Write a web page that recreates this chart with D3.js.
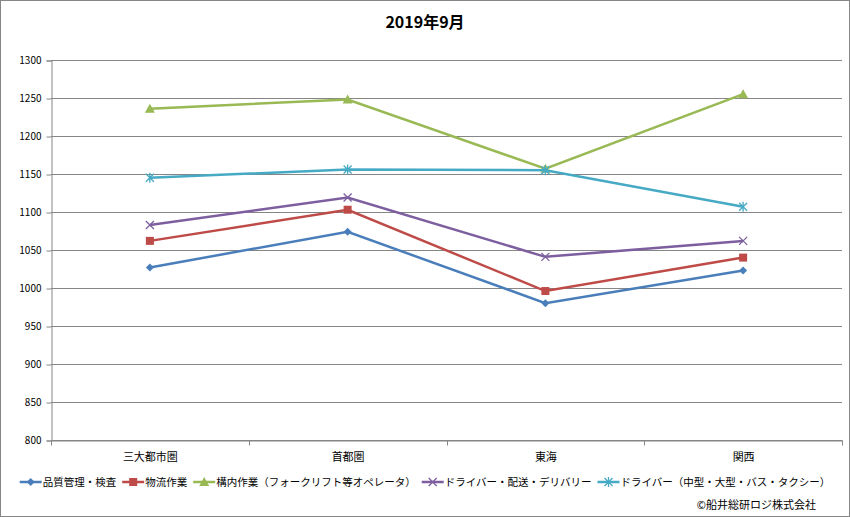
<!DOCTYPE html>
<html>
<head>
<meta charset="utf-8">
<script src="https://cdn.jsdelivr.net/npm/d3@7"></script>
<style>
  body { margin: 0; background: #fff; }
  text { font-family: "Noto Sans CJK JP", "Noto Sans", sans-serif; fill: #000; }
</style>
</head>
<body>
<div id="chart"></div>
<script>
// categories and series
const regions = ["三大都市圏", "首都圏", "東海", "関西"];
const seriesNames = [
  "品質管理・検査",
  "物流作業",
  "構内作業（フォークリフト等オペレータ）",
  "ドライバー・配送・デリバリー",
  "ドライバー（中型・大型・バス・タクシー）"
];
const qualityCheck = [1027, 1074, 980, 1023];
const logistics = [1062, 1103, 996, 1040];
const forklift = [1236, 1248, 1157, 1255];
const delivery = [1083, 1119, 1041, 1062];
const driverLarge = [1145, 1156, 1155, 1107];
const yTicks = [800, 850, 900, 950, 1000, 1050, 1100, 1150, 1200, 1250, 1300];

const colors = ["#4A7EBB", "#BE4B48", "#98B954", "#7D5FA0", "#46AAC5"];
const markers = ["diamond", "square", "triangle", "x", "star"];
const allSeries = [qualityCheck, logistics, forklift, delivery, driverLarge];

const width = 850, height = 517;
const margin = { left: 51, right: 8, top: 60, bottom: 77 };

const svg = d3.select('#chart')
  .append('svg')
    .attr('width', width)
    .attr('height', height);

// outer border
svg.append('rect')
  .attr('x', 0.5).attr('y', 0.5)
  .attr('width', width - 1).attr('height', height - 1)
  .attr('fill', '#fff')
  .attr('stroke', '#868686');

// title
svg.append('text')
  .attr('x', 425)
  .attr('y', 28)
  .attr('text-anchor', 'middle')
  .attr('font-size', 16)
  .attr('font-weight', 'bold')
  .text('2019年9月');

const x = d3.scaleBand()
  .domain(regions)
  .range([margin.left, width - margin.right]);

const y = d3.scaleLinear()
  .domain([800, 1300])
  .range([height - margin.bottom, margin.top]);

// gridlines
svg.append('g')
  .selectAll('line')
  .data(yTicks)
  .join('line')
    .attr('x1', margin.left)
    .attr('x2', width - margin.right)
    .attr('y1', d => Math.round(y(d)) + 0.5)
    .attr('y2', d => Math.round(y(d)) + 0.5)
    .attr('stroke', '#868686');

// y axis
const yAxis = svg.append('g')
  .attr('transform', `translate(${margin.left + 0.5},0.5)`)
  .call(d3.axisLeft(y).tickValues(yTicks).tickFormat(d3.format('d')).tickSize(5).tickPadding(5));
yAxis.select('.domain').attr('stroke', '#868686');
yAxis.selectAll('.tick line').attr('stroke', '#868686');
yAxis.selectAll('text').attr('font-size', 10).attr('font-family', '"DejaVu Sans", sans-serif').attr('fill', '#000');

// x axis
const xAxis = svg.append('g')
  .attr('transform', `translate(0.5,${Math.round(y(800)) + 0.5})`)
  .call(d3.axisBottom(x).tickSize(0).tickPadding(13));
xAxis.select('.domain').attr('stroke', '#868686');
xAxis.selectAll('text').attr('font-size', 11).attr('fill', '#000');
xAxis.selectAll('.boundary')
  .data([...regions.map(r => x(r)), width - margin.right])
  .join('line')
    .attr('class', 'boundary')
    .attr('x1', d => Math.round(d))
    .attr('x2', d => Math.round(d))
    .attr('y1', 0)
    .attr('y2', 5)
    .attr('stroke', '#868686');

const cx = r => x(r) + x.bandwidth() / 2;

function drawMarker(g, type, color, px, py) {
  const s = 4;
  if (type === 'diamond') {
    g.append('path').attr('d', `M${px},${py - s}L${px + s},${py}L${px},${py + s}L${px - s},${py}Z`).attr('fill', color);
  } else if (type === 'square') {
    g.append('rect').attr('x', px - 4).attr('y', py - 4).attr('width', 8).attr('height', 8).attr('fill', color);
  } else if (type === 'triangle') {
    g.append('path').attr('d', `M${px},${py - 5}L${px + 5},${py + 4}L${px - 5},${py + 4}Z`).attr('fill', color);
  } else if (type === 'x') {
    g.append('path').attr('d', `M${px - s},${py - s}L${px + s},${py + s}M${px - s},${py + s}L${px + s},${py - s}`).attr('stroke', color).attr('stroke-width', 1.3);
  } else {
    g.append('path').attr('d', `M${px - s},${py - s}L${px + s},${py + s}M${px - s},${py + s}L${px + s},${py - s}M${px},${py - s - 1}L${px},${py + s + 1}`).attr('stroke', color).attr('stroke-width', 1.3);
  }
}

// lines and markers
const line = d3.line()
  .x((d, i) => cx(regions[i]))
  .y(d => y(d));

allSeries.forEach((vals, si) => {
  const g = svg.append('g');
  g.append('path')
    .datum(vals)
    .attr('d', line)
    .attr('fill', 'none')
    .attr('stroke', colors[si])
    .attr('stroke-width', 2.5);
  vals.forEach((v, i) => drawMarker(g, markers[si], colors[si], cx(regions[i]), y(v)));
});

// legend: shrink the font until it fits the reference width
const legendY = 482;
const legendMax = 812;
let legend, lw, fs = 11;
do {
  if (legend) legend.remove();
  legend = svg.append('g');
  let lx = 0;
  seriesNames.forEach((name, si) => {
    const item = legend.append('g');
    item.append('line')
      .attr('x1', lx).attr('x2', lx + 22)
      .attr('y1', legendY).attr('y2', legendY)
      .attr('stroke', colors[si]).attr('stroke-width', 2.5);
    drawMarker(item, markers[si], colors[si], lx + 11, legendY);
    const t = item.append('text')
      .attr('x', lx + 23)
      .attr('y', legendY + 4)
      .attr('font-size', fs)
      .text(name);
    lx += 23 + t.node().getComputedTextLength() + 6;
  });
  lw = lx - 6;
  fs -= 0.25;
} while (lw > legendMax && fs > 8);
legend.attr('transform', `translate(${(width - lw) / 2},0)`);

// copyright
svg.append('text')
  .attr('x', 816)
  .attr('y', 509)
  .attr('text-anchor', 'end')
  .attr('font-size', 11)
  .text('©船井総研ロジ株式会社');
</script>
</body>
</html>
